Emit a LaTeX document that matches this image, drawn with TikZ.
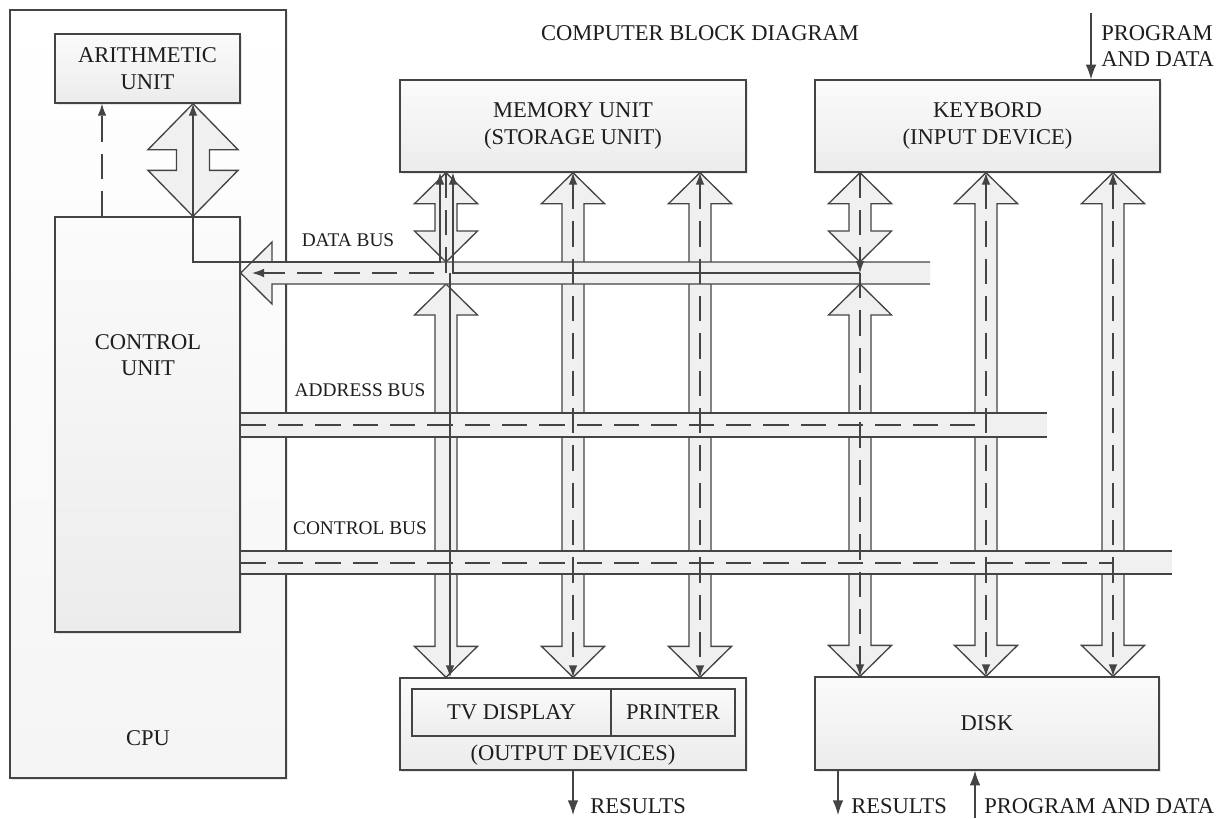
\documentclass[tikz,border=0pt]{standalone}
\usepackage{fontspec}
\setmainfont{Liberation Serif}
\usetikzlibrary{arrows.meta,calc,shadows}

\definecolor{edge}{HTML}{444444}
\definecolor{pipefill}{HTML}{F0F0F0}
\definecolor{boxtop}{HTML}{FBFBFB}
\definecolor{boxbot}{HTML}{ECECEC}
\definecolor{ink}{HTML}{1E1E1E}

\tikzset{
  unitbox/.style={draw=edge, line width=1pt, top color=boxtop, bottom color=boxbot,
    inner sep=0pt, drop shadow={shadow xshift=1.3pt, shadow yshift=-1.3pt, opacity=0.18}},
  cellbox/.style={draw=edge, line width=1pt, top color=boxtop, bottom color=boxbot, inner sep=0pt},
  pipe/.style={draw=edge, line width=1pt, fill=pipefill},
  busline/.style={draw=edge, line width=1pt},
  flow/.style={draw=edge, line width=1pt, -{Latex[length=9pt,width=6.5pt]}},
  dflow/.style={flow, dash pattern=on 19pt off 9pt},
  both/.style={draw=edge, line width=1pt, {Latex[length=9pt,width=6.5pt]}-{Latex[length=9pt,width=6.5pt]}},
  dboth/.style={both, dash pattern=on 19pt off 9pt},
  dline/.style={draw=edge, line width=1pt, dash pattern=on 19pt off 9pt},
  ioflow/.style={draw=edge, line width=1pt, -{Latex[length=11pt,width=8pt]}},
  lbl/.style={font=\fontsize{16.9}{20}\selectfont, align=center, inner sep=0pt, text=ink},
  buslbl/.style={font=\fontsize{14.5}{17}\selectfont, inner sep=0pt, text=ink},
}

% vertical block arrow with a head at both ends: #1 top tip, #2 bottom tip
\newcommand\colpipe[2]{%
  \path[pipe] (#1) -- ++(31.5,31) -- ++(-20.5,0) -- ($(#2)+(11,-31)$)
    -- ++(20.5,0) -- (#2) -- ++(-31.5,-31) -- ++(20.5,0)
    -- ($(#1)+(-11,31)$) -- ++(-20.5,0) -- cycle;}

\begin{document}
\begin{tikzpicture}[x=0.75pt,y=-0.75pt]
\useasboundingbox (0,0) rectangle (1227,818);
\fill[white] (0,0) rectangle (1227,818);

% ---------- CPU ----------
\node[unitbox, top color=white, bottom color=black!4, minimum width=207pt, minimum height=576pt] (cpu) at (148,394) {};
\node[unitbox, lbl, minimum width=138.75pt, minimum height=51.75pt] (alu) at (147.5,68.5) {ARITHMETIC\\UNIT};
\node[unitbox, minimum width=138.75pt, minimum height=311.25pt] (cu) at (147.5,424.5) {};
\node[lbl] (cutext) at (148,355) {CONTROL\\UNIT};
\node[lbl] (cputext) at (148,738) {CPU};

% ---------- peripheral units ----------
\node[unitbox, lbl, minimum width=259.5pt, minimum height=69pt] (mem) at (573,126) {MEMORY UNIT\\(STORAGE UNIT)};
\node[unitbox, lbl, minimum width=258.75pt, minimum height=69pt] (kb) at (987.5,126) {KEYBORD\\(INPUT DEVICE)};
\node[unitbox, minimum width=259.5pt, minimum height=69pt] (out) at (573,724) {};
\node[cellbox, lbl, minimum width=149.25pt, minimum height=35.25pt] (tv) at (511.5,712.5) {TV DISPLAY};
\node[cellbox, lbl, minimum width=93pt, minimum height=35.25pt] (pr) at (673,712.5) {PRINTER};
\node[lbl] (outtext) at (573,755) {(OUTPUT DEVICES)};
\node[unitbox, lbl, minimum width=258pt, minimum height=69.75pt] (disk) at (987,723.5) {DISK};

\node[lbl] (title) at (700,33) {COMPUTER BLOCK DIAGRAM};

% ---------- column and bus levels ----------
\coordinate (m1) at (446,0);  \coordinate (m2) at (573,0);  \coordinate (m3) at (700,0);
\coordinate (k1) at (860,0);  \coordinate (k2) at (986,0);  \coordinate (k3) at (1113,0);
\coordinate (ca) at (193,0);  \coordinate (cd) at (102,0);
\coordinate (ma) at (440,0);  \coordinate (mb) at (446,0);  \coordinate (mc) at (453,0);  \coordinate (md) at (450,0);
\coordinate (dbtop) at (0,262); \coordinate (dbmid) at (0,273); \coordinate (dbbot) at (0,284);
\coordinate (abus) at (0,425);  \coordinate (cbus) at (0,563);

% ---------- vertical block arrows ----------
\coordinate (m1u) at (m1 |- dbtop);  \coordinate (m1l) at (m1 |- dbbot);
\coordinate (k1u) at (k1 |- dbtop);  \coordinate (k1l) at (k1 |- dbbot);
\coordinate (m1t) at (mem.south -| m1); \coordinate (m1b) at (out.north -| m1);
\coordinate (m2t) at (mem.south -| m2); \coordinate (m2b) at (out.north -| m2);
\coordinate (m3t) at (mem.south -| m3); \coordinate (m3b) at (out.north -| m3);
\coordinate (k1t) at (kb.south -| k1);  \coordinate (k1b) at (disk.north -| k1);
\coordinate (k2t) at (kb.south -| k2);  \coordinate (k2b) at (disk.north -| k2);
\coordinate (k3t) at (kb.south -| k3);  \coordinate (k3b) at (disk.north -| k3);

\colpipe{m1t}{m1u} \colpipe{m1l}{m1b}
\colpipe{m2t}{m2b} \colpipe{m3t}{m3b}
\colpipe{k1t}{k1u} \colpipe{k1l}{k1b}
\colpipe{k2t}{k2b} \colpipe{k3t}{k3b}

% block arrow between arithmetic unit and control unit
\coordinate (at) at (alu.south -| ca); \coordinate (ab) at (cu.north -| ca);
\path[pipe] (at) -- ++(45,46) -- ++(-28.5,0) -- ($(ab)+(16.5,-46)$) -- ++(28.5,0) -- (ab)
  -- ++(-45,-46) -- ++(28.5,0) -- ($(at)+(-16.5,46)$) -- ++(-28.5,0) -- cycle;

% ---------- buses ----------
\coordinate (dbend) at (930,273);
\coordinate (abend) at (1047,425);
\coordinate (cbend) at (1172,563);
% data bus: arrow pointing into the control unit
\fill[pipefill] (cu.east |- dbmid) -- (272,242) -- (272,262) -- (dbend |- dbtop) -- (dbend |- dbbot)
  -- (272,284) -- (272,304) -- cycle;
\draw[busline] (dbend |- dbtop) -- (272,262) -- (272,242) -- (cu.east |- dbmid) -- (272,304)
  -- (272,284) -- (dbend |- dbbot);
% address bus
\fill[pipefill] (cu.east |- 0,413) rectangle (abend |- 0,437);
\draw[busline] (cu.east |- 0,413) -- (abend |- 0,413) (cu.east |- 0,437) -- (abend |- 0,437);
% control bus
\fill[pipefill] (cu.east |- 0,551) rectangle (cbend |- 0,574);
\draw[busline] (cu.east |- 0,551) -- (cbend |- 0,551) (cu.east |- 0,574) -- (cbend |- 0,574);

\node[buslbl] (dblbl) at (348,240) {DATA BUS};
\node[buslbl] (ablbl) at (360,390) {ADDRESS BUS};
\node[buslbl] (cblbl) at (360,528) {CONTROL BUS};

% ---------- signal lines ----------
\draw[dflow] (cu.north -| cd) -- (alu.south -| cd);
\draw[both] (alu.south -| ca) -- (ca |- dbtop) -- (ma |- dbtop) -- (mem.south -| ma);
\coordinate (dbtip) at (252,273);
\draw[dflow] (mem.south -| mb) -- (mb |- dbmid) -- (dbtip);
\draw[flow] (k1 |- dbmid) -- (mc |- dbmid) -- (mem.south -| mc);
\draw[flow] (md |- dbmid) -- (out.north -| md);
\draw[dflow] (kb.south -| k1) -- (k1 |- dbmid);
\draw[dflow] (k1 |- dbmid) -- (disk.north -| k1);
\draw[dboth] (mem.south -| m2) -- (out.north -| m2);
\draw[dboth] (mem.south -| m3) -- (out.north -| m3);
\draw[dboth] (kb.south -| k2) -- (disk.north -| k2);
\draw[dboth] (kb.south -| k3) -- (disk.north -| k3);
\draw[dline] (cu.east |- abus) -- (k2 |- abus);
\draw[dline] (cu.east |- cbus) -- (k3 |- cbus);

% ---------- inputs and results ----------
\coordinate (p1) at (1091,13);
\draw[ioflow] (p1) -- (kb.north -| p1);
\node[lbl, anchor=west, align=left] (p1lbl) at (1101,46) {PROGRAM\\AND DATA};

\coordinate (r1) at (573,815);
\draw[ioflow] (out.south) -- (r1);
\node[lbl, anchor=west] (r1lbl) at (590,806) {RESULTS};

\coordinate (r2) at (838,815);
\draw[ioflow] (disk.south -| r2) -- (r2);
\node[lbl, anchor=west] (r2lbl) at (851,806) {RESULTS};

\coordinate (p2) at (975,818);
\draw[ioflow] (p2) -- (disk.south -| p2);
\node[lbl, anchor=west] (p2lbl) at (984,806) {PROGRAM AND DATA};
\end{tikzpicture}
\end{document}
